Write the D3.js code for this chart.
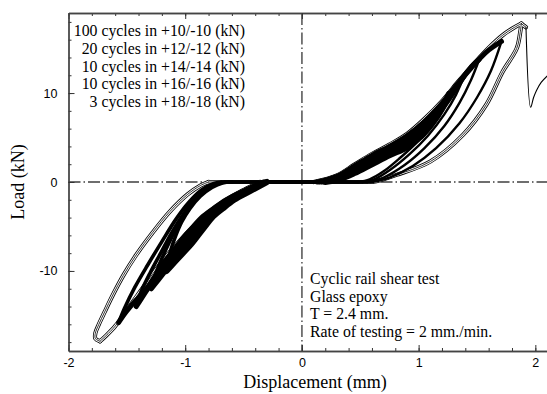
<!DOCTYPE html>
<html>
<head>
<meta charset="utf-8">
<script src="https://cdn.jsdelivr.net/npm/d3@7"></script>
<style>
  body { margin: 0; background: #fff; }
  svg { display: block; }
  .tick text { font-family: "Liberation Sans", Arial, sans-serif; font-size: 12.5px; fill: #000; }
  .serif { font-family: "Liberation Serif", "Times New Roman", serif; font-size: 15.8px; fill: #000; }
</style>
</head>
<body>
<svg width="547" height="394"></svg>
<script>
// load levels (kN), one loop per level, points as [displacement, load]
var levels = [10, 12, 14, 16, 18];

// positive side, branch nearest the origin: from zero load up to the peak
var posInner = [
  [[0.2,0],[0.32,0.3],[0.45,1.0],[0.6,2.0],[0.75,3.0],[0.9,3.9],[1.02,5.1],[1.12,6.6],[1.2,8.2],[1.26,9.9]],
  [[0.17,0],[0.3,0.35],[0.45,1.25],[0.6,2.35],[0.75,3.35],[0.9,4.3],[1.03,5.6],[1.15,7.3],[1.26,9.3],[1.34,10.9],[1.39,11.9]],
  [[0.15,0],[0.3,0.5],[0.45,1.5],[0.6,2.7],[0.75,3.7],[0.9,4.8],[1.04,6.3],[1.17,8.1],[1.29,10.1],[1.4,12.1],[1.47,13.2],[1.52,13.8]],
  [[0.13,0],[0.3,0.65],[0.45,1.8],[0.6,3.0],[0.75,4.0],[0.9,5.2],[1.05,6.8],[1.19,8.7],[1.32,10.8],[1.45,12.8],[1.57,14.5],[1.65,15.3],[1.71,15.8]],
  [[0.1,0],[0.3,0.75],[0.45,1.95],[0.6,3.15],[0.75,4.2],[0.9,5.4],[1.05,7.1],[1.2,9.1],[1.34,11.3],[1.48,13.4],[1.61,15.2],[1.72,16.5],[1.81,17.3],[1.88,17.8]]
];

// positive side, outer branch: from the peak back to zero load
var posOuter = [
  [[1.26,9.9],[1.2,8.2],[1.1,6.3],[0.98,4.4],[0.84,2.7],[0.7,1.2],[0.58,0.3],[0.48,0]],
  [[1.39,11.9],[1.32,9.8],[1.22,7.6],[1.08,5.2],[0.92,3.1],[0.76,1.4],[0.62,0.3],[0.52,0]],
  [[1.52,13.8],[1.45,11.5],[1.35,8.9],[1.22,6.3],[1.05,3.8],[0.88,1.9],[0.7,0.5],[0.56,0]],
  [[1.71,15.8],[1.62,12.5],[1.5,9.5],[1.35,6.6],[1.15,3.8],[0.95,1.8],[0.75,0.5],[0.6,0]],
  [[1.88,17.8],[1.87,16.8],[1.84,15.0],[1.72,12.4],[1.58,8.7],[1.38,5.3],[1.1,2.3],[0.81,0.8],[0.67,0.2],[0.6,0]]
];

// negative side, branch nearest the origin
var negInner = [
  [[-0.3,0],[-0.44,-1],[-0.58,-2],[-0.68,-3],[-0.77,-4],[-0.83,-5],[-0.89,-6],[-0.95,-7],[-1.02,-8],[-1.09,-9],[-1.16,-10]],
  [[-0.31,0],[-0.46,-1],[-0.61,-2],[-0.71,-3],[-0.8,-4],[-0.87,-5],[-0.93,-6],[-0.99,-7],[-1.05,-8],[-1.11,-9],[-1.17,-10],[-1.23,-11],[-1.29,-12]],
  [[-0.32,0],[-0.48,-1],[-0.63,-2],[-0.74,-3],[-0.83,-4],[-0.9,-5],[-0.97,-6],[-1.03,-7],[-1.09,-8],[-1.15,-9],[-1.2,-10],[-1.26,-11],[-1.32,-12],[-1.37,-13],[-1.42,-14]],
  [[-0.33,0],[-0.5,-1],[-0.65,-2],[-0.76,-3],[-0.86,-4],[-0.93,-5],[-1.0,-6],[-1.06,-7],[-1.12,-8],[-1.18,-9],[-1.23,-10],[-1.28,-11],[-1.33,-12],[-1.4,-13],[-1.47,-14],[-1.53,-15],[-1.57,-15.8]],
  [[-0.36,0],[-0.5,-0.9],[-0.65,-2.0],[-0.8,-3.4],[-0.93,-5.0],[-1.04,-6.5],[-1.14,-8.0],[-1.26,-10.0],[-1.38,-12.2],[-1.5,-14.4],[-1.6,-16.2],[-1.68,-17.3],[-1.73,-17.9]]
];

// negative side, outer branch
var negOuter = [
  [[-1.16,-10.0],[-1.15,-9.0],[-1.12,-7.5],[-1.08,-6.0],[-1.03,-4.5],[-0.96,-3.0],[-0.87,-1.6],[-0.77,-0.6],[-0.68,-0.1],[-0.6,0]],
  [[-1.29,-12.0],[-1.26,-10.6],[-1.2,-8.6],[-1.13,-6.6],[-1.06,-4.8],[-0.98,-3.1],[-0.89,-1.7],[-0.79,-0.6],[-0.7,-0.1],[-0.63,0]],
  [[-1.42,-14.0],[-1.38,-12.4],[-1.3,-10.2],[-1.21,-8.0],[-1.12,-5.8],[-1.02,-3.7],[-0.92,-2.0],[-0.82,-0.8],[-0.72,-0.15],[-0.66,0]],
  [[-1.57,-15.8],[-1.52,-14.2],[-1.43,-11.8],[-1.32,-9.3],[-1.2,-6.7],[-1.08,-4.2],[-0.97,-2.3],[-0.86,-0.9],[-0.76,-0.2],[-0.69,0]],
  [[-1.73,-17.9],[-1.77,-17.6],[-1.77,-17.0],[-1.74,-16.0],[-1.69,-14.6],[-1.62,-12.7],[-1.53,-10.5],[-1.42,-8.2],[-1.28,-5.7],[-1.13,-3.3],[-0.98,-1.4],[-0.87,-0.4],[-0.8,0]]
];

// last cycle: failure drop and reload
var failure = [[1.88,17.8],[1.92,17.4],[1.96,8.4],[1.985,9.5],[2.01,10.3],[2.05,11.2],[2.1,11.9]];

var xMajor = [-2, -1, 0, 1, 2];
var yMajor = [-10, 0, 10];
var xMinor = d3.range(-20, 21, 2).map(function(d) { return d / 10; });
var yMinor = d3.range(-18, 19, 2);

var legendLines = [
  "100 cycles in +10/-10 (kN)",
  "20 cycles in +12/-12 (kN)",
  "10 cycles in +14/-14 (kN)",
  "10 cycles in +16/-16 (kN)",
  "3 cycles in +18/-18 (kN)"
];
var noteLines = [
  "Cyclic rail shear test",
  "Glass epoxy",
  "T = 2.4 mm.",
  "Rate of testing = 2 mm./min."
];

var svg = d3.select('svg');
var plotL = 68.5, plotR = 547, plotT = 13, plotB = 351;

var x = d3.scaleLinear().domain([-2, 2.1]).range([plotL, plotR]);
var y = d3.scaleLinear().domain([-19, 19]).range([plotB, plotT]);

svg.append('clipPath').attr('id', 'plot')
  .append('rect').attr('x', plotL).attr('y', plotT)
  .attr('width', plotR - plotL).attr('height', plotB - plotT);

// dash-dot zero lines
var zero = svg.append('g')
  .attr('stroke', '#6e6e6e').attr('stroke-width', 1.8)
  .attr('stroke-dasharray', '12,3,1.5,3');
zero.append('line').attr('x1', x(0)).attr('x2', x(0)).attr('y1', plotT).attr('y2', plotB);
zero.append('line').attr('x1', plotL).attr('x2', plotR).attr('y1', y(0)).attr('y2', y(0));

var line = d3.line()
  .x(function(d) { return x(d[0]); })
  .y(function(d) { return y(d[1]); })
  .curve(d3.curveCatmullRom.alpha(0.5));

var data = svg.append('g').attr('clip-path', 'url(#plot)')
  .attr('fill', 'none').attr('stroke-linejoin', 'round').attr('stroke-linecap', 'round');

function branches(i) {
  return [posInner[i], posOuter[i], negInner[i], negOuter[i],
    [negOuter[i][negOuter[i].length - 1], posInner[i][0]],
    [posOuter[i][posOuter[i].length - 1], negInner[i][0]]];
}

// 3 cycles at 18 kN: drawn as fine parallel lines
var last = levels.length - 1;
[[4.2, '#000'], [2.6, '#fff'], [0.8, '#000']].forEach(function(s) {
  data.selectAll(null).data(branches(last).concat([failure.slice(0, 2)]))
    .enter().append('path')
    .attr('d', line).attr('stroke', s[1]).attr('stroke-width', s[0]);
});

// 10 to 16 kN: many cycles, heavy bands
levels.slice(0, last).forEach(function(L, i) {
  var b = branches(i);
  data.selectAll(null).data([b[0], b[2]]).enter().append('path')
    .attr('d', line).attr('stroke', '#000').attr('stroke-width', i === 0 ? 6 : 5);
  data.append('path').datum(b[1])
    .attr('d', line).attr('stroke', '#000').attr('stroke-width', 2.4);
  data.append('path').datum(b[3])
    .attr('d', line).attr('stroke', '#000').attr('stroke-width', 3.6);
  data.selectAll(null).data([b[4], b[5]]).enter().append('path')
    .attr('d', line).attr('stroke', '#000').attr('stroke-width', 2.8);
});

data.append('path').datum(failure.slice(1))
  .attr('d', line).attr('stroke', '#000').attr('stroke-width', 1.1);

// axes, ticks pointing inward
function styleAxis(g) {
  g.selectAll('.domain').attr('stroke', '#444').attr('stroke-width', 1.3);
  g.selectAll('.tick line').attr('stroke', '#333').attr('stroke-width', 1);
}
var fmt = function(d) { return String(d); };

svg.append('g').attr('transform', 'translate(0,' + plotB + ')')
  .call(d3.axisBottom(x).tickValues(xMinor).tickSize(-3).tickSizeOuter(0).tickFormat(''))
  .call(styleAxis);
svg.append('g').attr('transform', 'translate(0,' + plotB + ')')
  .call(d3.axisBottom(x).tickValues(xMajor).tickSize(-6).tickSizeOuter(0).tickPadding(7).tickFormat(fmt))
  .call(styleAxis);
svg.append('g').attr('transform', 'translate(0,' + plotT + ')')
  .call(d3.axisTop(x).tickValues(xMinor).tickSize(-3).tickSizeOuter(0).tickFormat(''))
  .call(styleAxis);
svg.append('g').attr('transform', 'translate(0,' + plotT + ')')
  .call(d3.axisTop(x).tickValues(xMajor).tickSize(-6).tickSizeOuter(0).tickFormat(''))
  .call(styleAxis);
svg.append('g').attr('transform', 'translate(' + plotL + ',0)')
  .call(d3.axisLeft(y).tickValues(yMinor).tickSize(-3).tickSizeOuter(0).tickFormat(''))
  .call(styleAxis);
svg.append('g').attr('transform', 'translate(' + plotL + ',0)')
  .call(d3.axisLeft(y).tickValues(yMajor).tickSize(-6).tickSizeOuter(0).tickPadding(11).tickFormat(fmt))
  .call(styleAxis);
svg.selectAll('.tick text').attr('font-family', null).attr('font-size', null);

// titles
svg.append('text').attr('class', 'serif')
  .attr('x', 315).attr('y', 388).attr('text-anchor', 'middle')
  .style('font-size', '18px')
  .text('Displacement (mm)');
svg.append('text').attr('class', 'serif')
  .attr('transform', 'translate(24,182) rotate(-90)').attr('text-anchor', 'middle')
  .style('font-size', '18px')
  .text('Load (kN)');

// level list, top left
svg.append('g').selectAll('text').data(legendLines).enter().append('text')
  .attr('class', 'serif')
  .attr('x', 245).attr('y', function(d, i) { return 36 + i * 17.8; })
  .attr('text-anchor', 'end')
  .text(function(d) { return d; });

// test description, bottom right
svg.append('g').selectAll('text').data(noteLines).enter().append('text')
  .attr('class', 'serif')
  .attr('x', 310).attr('y', function(d, i) { return 284 + i * 17.5; })
  .text(function(d) { return d; });
</script>
</body>
</html>
